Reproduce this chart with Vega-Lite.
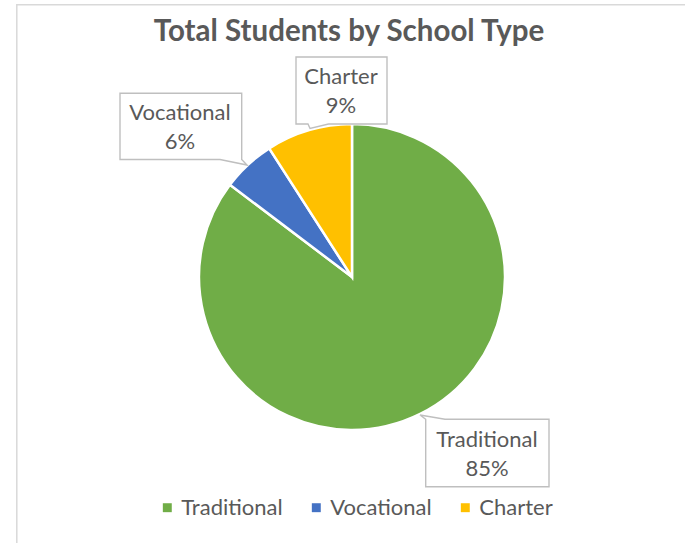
{
  "$schema": "https://vega.github.io/schema/vega-lite/v6.json",
  "autosize": {"type": "none"},
  "padding": {"left": 16.8, "top": 4.7, "right": -2.2, "bottom": -6.3},
  "width": 670.4,
  "height": 544.6,
  "background": "white",
  "view": {"stroke": "#D9D9D9", "strokeWidth": 1.5, "fill": "white"},
  "config": {
    "view": {"stroke": "#D9D9D9", "strokeWidth": 1.5},
    "font": "Lato"
  },
  "title": {
    "text": "Total Students by School Type",
    "font": "Lato",
    "fontSize": 29.5,
    "fontWeight": "bold",
    "color": "#595959",
    "anchor": "middle",
    "frame": "group",
    "baseline": "alphabetic",
    "offset": -65.5,
    "dx": -3
  },
  "data": {
    "values": [
      {"type": "Traditional", "share": 0.853},
      {"type": "Vocational", "share": 0.056},
      {"type": "Charter", "share": 0.091}
    ]
  },
  "transform": [
    {"window": [{"op": "row_number", "as": "idx"}]},
    {"calculate": "datum.type + '\\n' + format(datum.share, '.0%')", "as": "label"}
  ],
  "layer": [
    {
      "mark": {"type": "arc", "outerRadius": 153, "stroke": "white", "strokeWidth": 2.5},
      "encoding": {
        "theta": {"field": "share", "type": "quantitative", "stack": true},
        "order": {"field": "idx", "type": "quantitative"},
        "color": {
          "field": "type",
          "type": "nominal",
          "scale": {"domain": ["Traditional", "Vocational", "Charter"], "range": ["#70AD47", "#4472C4", "#FFC000"]},
          "legend": {
            "title": null,
            "orient": "none",
            "legendX": 139.5,
            "legendY": 492,
            "direction": "horizontal",
            "symbolType": "square",
            "symbolSize": 80,
            "symbolStrokeWidth": 0,
            "labelFont": "Lato",
            "labelFontSize": 22,
            "labelColor": "#595959",
            "labelOffset": 3,
            "columnPadding": 22,
            "padding": 0
          }
        }
      }
    },
    {
      "transform": [{"filter": "datum.type === 'Traditional'"}],
      "mark": {"type": "point", "shape": "M73.7,142.3L68,138L93,142.3H197V209.7H73.7Z", "filled": true, "fill": "white", "stroke": "#BFBFBF", "strokeWidth": 1.4, "opacity": 1, "size": 4},
      "encoding": {}
    },
    {
      "transform": [{"filter": "datum.type === 'Vocational'"}],
      "mark": {"type": "point", "shape": "M-232,-183.7H-110.3V-117.5L-105,-112L-132,-117.5H-232Z", "filled": true, "fill": "white", "stroke": "#BFBFBF", "strokeWidth": 1.4, "opacity": 1, "size": 4},
      "encoding": {}
    },
    {
      "transform": [{"filter": "datum.type === 'Charter'"}],
      "mark": {"type": "point", "shape": "M-56,-220H35V-153H-23.5L-42,-148.5L-44,-153H-56Z", "filled": true, "fill": "white", "stroke": "#BFBFBF", "strokeWidth": 1.4, "opacity": 1, "size": 4},
      "encoding": {}
    },
    {
      "mark": {"type": "text", "radius": 200, "dx": 45.9, "dy": -9.3, "font": "Lato", "fontSize": 22, "color": "#595959", "align": "center", "baseline": "alphabetic", "lineBreak": "\n", "lineHeight": 29},
      "encoding": {
        "theta": {"field": "share", "type": "quantitative", "stack": true},
        "order": {"field": "idx", "type": "quantitative"},
        "text": {"field": "label"},
        "opacity": {"condition": {"test": "datum.type === 'Traditional'", "value": 1}, "value": 0}
      }
    },
    {
      "mark": {"type": "text", "radius": 200, "dx": -36, "dy": -10.4, "font": "Lato", "fontSize": 22, "color": "#595959", "align": "center", "baseline": "alphabetic", "lineBreak": "\n", "lineHeight": 29},
      "encoding": {
        "theta": {"field": "share", "type": "quantitative", "stack": true},
        "order": {"field": "idx", "type": "quantitative"},
        "text": {"field": "label"},
        "opacity": {"condition": {"test": "datum.type === 'Vocational'", "value": 1}, "value": 0}
      }
    },
    {
      "mark": {"type": "text", "radius": 200, "dx": 45.4, "dy": -1.1, "font": "Lato", "fontSize": 22, "color": "#595959", "align": "center", "baseline": "alphabetic", "lineBreak": "\n", "lineHeight": 29},
      "encoding": {
        "theta": {"field": "share", "type": "quantitative", "stack": true},
        "order": {"field": "idx", "type": "quantitative"},
        "text": {"field": "label"},
        "opacity": {"condition": {"test": "datum.type === 'Charter'", "value": 1}, "value": 0}
      }
    }
  ]
}
